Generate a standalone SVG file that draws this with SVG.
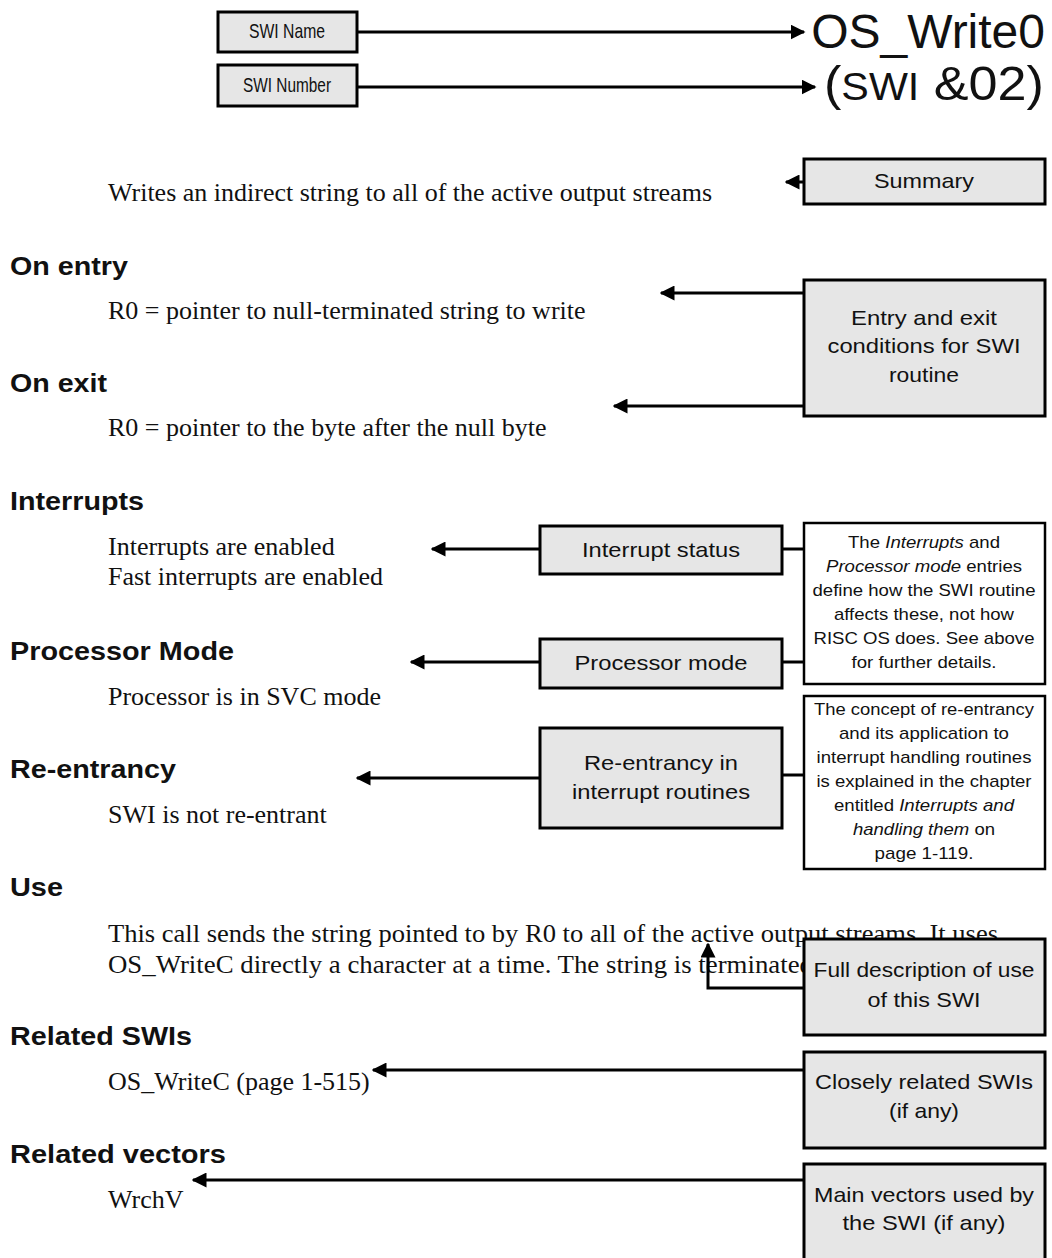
<svg xmlns="http://www.w3.org/2000/svg" width="1052" height="1258" viewBox="0 0 1052 1258">
<style>
.bx{fill:#e6e6e6;stroke:#000;stroke-width:3}
.nt{fill:#fff;stroke:#000;stroke-width:2.5}
.lb{font-family:"Liberation Sans",Arial,sans-serif;font-size:21px;fill:#111;text-anchor:middle}
.nx{font-family:"Liberation Sans",Arial,sans-serif;font-size:17px;fill:#111;text-anchor:middle}
.hd{font-family:"Liberation Sans",Arial,sans-serif;font-size:25px;font-weight:bold;fill:#111}
.bd{font-family:"Liberation Serif","Times New Roman",serif;font-size:26px;fill:#111}
.big{font-family:"Liberation Sans",Arial,sans-serif;font-size:48px;fill:#111}
.cn{fill:none;stroke:#000;stroke-width:3}
.it{font-style:italic}
</style>
<defs>
<marker id="ah" viewBox="0 0 10 10" refX="9" refY="5" markerWidth="5" markerHeight="5" markerUnits="strokeWidth" orient="auto">
<path d="M0,0 L10,5 L0,10 z" fill="#000"/>
</marker>
</defs>
<rect width="1052" height="1258" fill="#fff"/>

<g id="text-body">
<text class="bd" x="108" y="201">Writes an indirect string to all of the active output streams</text>
<text class="hd" x="10" y="275" textLength="118" lengthAdjust="spacingAndGlyphs">On entry</text>
<text class="bd" x="108" y="319">R0 = pointer to null-terminated string to write</text>
<text class="hd" x="10" y="392" textLength="97" lengthAdjust="spacingAndGlyphs">On exit</text>
<text class="bd" x="108" y="436">R0 = pointer to the byte after the null byte</text>
<text class="hd" x="10" y="510" textLength="134" lengthAdjust="spacingAndGlyphs">Interrupts</text>
<text class="bd" x="108" y="555">Interrupts are enabled</text>
<text class="bd" x="108" y="585">Fast interrupts are enabled</text>
<text class="hd" x="10" y="660" textLength="224" lengthAdjust="spacingAndGlyphs">Processor Mode</text>
<text class="bd" x="108" y="705">Processor is in SVC mode</text>
<text class="hd" x="10" y="778" textLength="166" lengthAdjust="spacingAndGlyphs">Re-entrancy</text>
<text class="bd" x="108" y="823">SWI is not re-entrant</text>
<text class="hd" x="10" y="896" textLength="53" lengthAdjust="spacingAndGlyphs">Use</text>
<text class="bd" x="108" y="942" textLength="890" lengthAdjust="spacingAndGlyphs">This call sends the string pointed to by R0 to all of the active output streams. It uses</text>
<text class="bd" x="108" y="973" textLength="705" lengthAdjust="spacingAndGlyphs">OS_WriteC directly a character at a time. The string is terminated</text>
<text class="hd" x="10" y="1045" textLength="182" lengthAdjust="spacingAndGlyphs">Related SWIs</text>
<text class="bd" x="108" y="1090">OS_WriteC (page 1-515)</text>
<text class="hd" x="10" y="1163" textLength="216" lengthAdjust="spacingAndGlyphs">Related vectors</text>
<text class="bd" x="108" y="1208">WrchV</text>
</g>

<g id="connectors">
<line class="cn" x1="357" y1="32" x2="804" y2="32" marker-end="url(#ah)"/>
<line class="cn" x1="357" y1="87" x2="815" y2="87" marker-end="url(#ah)"/>
<line class="cn" x1="804" y1="182" x2="786" y2="182" marker-end="url(#ah)"/>
<line class="cn" x1="804" y1="293" x2="661" y2="293" marker-end="url(#ah)"/>
<line class="cn" x1="804" y1="406" x2="614" y2="406" marker-end="url(#ah)"/>
<line class="cn" x1="540" y1="549" x2="432" y2="549" marker-end="url(#ah)"/>
<line class="cn" x1="540" y1="662" x2="411" y2="662" marker-end="url(#ah)"/>
<line class="cn" x1="540" y1="778" x2="357" y2="778" marker-end="url(#ah)"/>
<line class="cn" x1="782" y1="549" x2="804" y2="549"/>
<line class="cn" x1="782" y1="662" x2="804" y2="662"/>
<line class="cn" x1="782" y1="775" x2="804" y2="775"/>
<polyline class="cn" points="804,988 708,988 708,944" marker-end="url(#ah)"/>
<line class="cn" x1="804" y1="1070" x2="373" y2="1070" marker-end="url(#ah)"/>
<line class="cn" x1="804" y1="1180" x2="193" y2="1180" marker-end="url(#ah)"/>
</g>

<g id="swi-title">
<text class="big" x="1045" y="48" text-anchor="end">OS_Write0</text>
<text class="big" x="824" y="100" textLength="220" lengthAdjust="spacingAndGlyphs">(<tspan font-size="38">SWI</tspan> &amp;02)</text>
</g>

<g id="swi-name">
<rect class="bx" x="218" y="12" width="139" height="40"/>
<text class="lb" x="287" y="38" font-size="17" textLength="76" lengthAdjust="spacingAndGlyphs">SWI Name</text>
</g>
<g id="swi-number">
<rect class="bx" x="218" y="65" width="139" height="41"/>
<text class="lb" x="287" y="92" font-size="17" textLength="88" lengthAdjust="spacingAndGlyphs">SWI Number</text>
</g>
<g id="summary">
<rect class="bx" x="804" y="159" width="241" height="45"/>
<text class="lb" x="924" y="188" textLength="100" lengthAdjust="spacingAndGlyphs">Summary</text>
</g>
<g id="entry-exit">
<rect class="bx" x="804" y="280" width="241" height="136"/>
<text class="lb" x="924" y="325" textLength="146" lengthAdjust="spacingAndGlyphs">Entry and exit</text>
<text class="lb" x="924" y="353" textLength="193" lengthAdjust="spacingAndGlyphs">conditions for SWI</text>
<text class="lb" x="924" y="382" textLength="70" lengthAdjust="spacingAndGlyphs">routine</text>
</g>
<g id="interrupt-status">
<rect class="bx" x="540" y="526" width="242" height="48"/>
<text class="lb" x="661" y="557" textLength="158" lengthAdjust="spacingAndGlyphs">Interrupt status</text>
</g>
<g id="processor-mode">
<rect class="bx" x="540" y="639" width="242" height="49"/>
<text class="lb" x="661" y="670" textLength="173" lengthAdjust="spacingAndGlyphs">Processor mode</text>
</g>
<g id="reentrancy">
<rect class="bx" x="540" y="728" width="242" height="100"/>
<text class="lb" x="661" y="770" textLength="154" lengthAdjust="spacingAndGlyphs">Re-entrancy in</text>
<text class="lb" x="661" y="799" textLength="178" lengthAdjust="spacingAndGlyphs">interrupt routines</text>
</g>
<g id="note-modes">
<rect class="nt" x="804" y="523" width="241" height="161"/>
<text class="nx" x="924" y="548" textLength="152" lengthAdjust="spacingAndGlyphs">The <tspan class="it">Interrupts</tspan> and</text>
<text class="nx" x="924" y="572" textLength="196" lengthAdjust="spacingAndGlyphs"><tspan class="it">Processor mode</tspan> entries</text>
<text class="nx" x="924" y="596" textLength="223" lengthAdjust="spacingAndGlyphs">define how the SWI routine</text>
<text class="nx" x="924" y="620" textLength="180" lengthAdjust="spacingAndGlyphs">affects these, not how</text>
<text class="nx" x="924" y="644" textLength="221" lengthAdjust="spacingAndGlyphs">RISC OS does. See above</text>
<text class="nx" x="924" y="668" textLength="145" lengthAdjust="spacingAndGlyphs">for further details.</text>
</g>
<g id="note-reentrancy">
<rect class="nt" x="804" y="696" width="241" height="173"/>
<text class="nx" x="924" y="715" textLength="220" lengthAdjust="spacingAndGlyphs">The concept of re-entrancy</text>
<text class="nx" x="924" y="739" textLength="170" lengthAdjust="spacingAndGlyphs">and its application to</text>
<text class="nx" x="924" y="763" textLength="215" lengthAdjust="spacingAndGlyphs">interrupt handling routines</text>
<text class="nx" x="924" y="787" textLength="215" lengthAdjust="spacingAndGlyphs">is explained in the chapter</text>
<text class="nx" x="924" y="811" textLength="180" lengthAdjust="spacingAndGlyphs">entitled <tspan class="it">Interrupts and</tspan></text>
<text class="nx" x="924" y="835" textLength="142" lengthAdjust="spacingAndGlyphs"><tspan class="it">handling them</tspan> on</text>
<text class="nx" x="924" y="859" textLength="99" lengthAdjust="spacingAndGlyphs">page 1-119.</text>
</g>
<g id="use-box">
<rect class="bx" x="804" y="939" width="241" height="96"/>
<text class="lb" x="924" y="977" textLength="221" lengthAdjust="spacingAndGlyphs">Full description of use</text>
<text class="lb" x="924" y="1007" textLength="113" lengthAdjust="spacingAndGlyphs">of this SWI</text>
</g>
<g id="related-swis-box">
<rect class="bx" x="804" y="1052" width="241" height="96"/>
<text class="lb" x="924" y="1089" textLength="218" lengthAdjust="spacingAndGlyphs">Closely related SWIs</text>
<text class="lb" x="924" y="1118" textLength="70" lengthAdjust="spacingAndGlyphs">(if any)</text>
</g>
<g id="related-vectors-box">
<rect class="bx" x="804" y="1164" width="241" height="100"/>
<text class="lb" x="924" y="1202" textLength="220" lengthAdjust="spacingAndGlyphs">Main vectors used by</text>
<text class="lb" x="924" y="1230" textLength="163" lengthAdjust="spacingAndGlyphs">the SWI (if any)</text>
</g>
</svg>
